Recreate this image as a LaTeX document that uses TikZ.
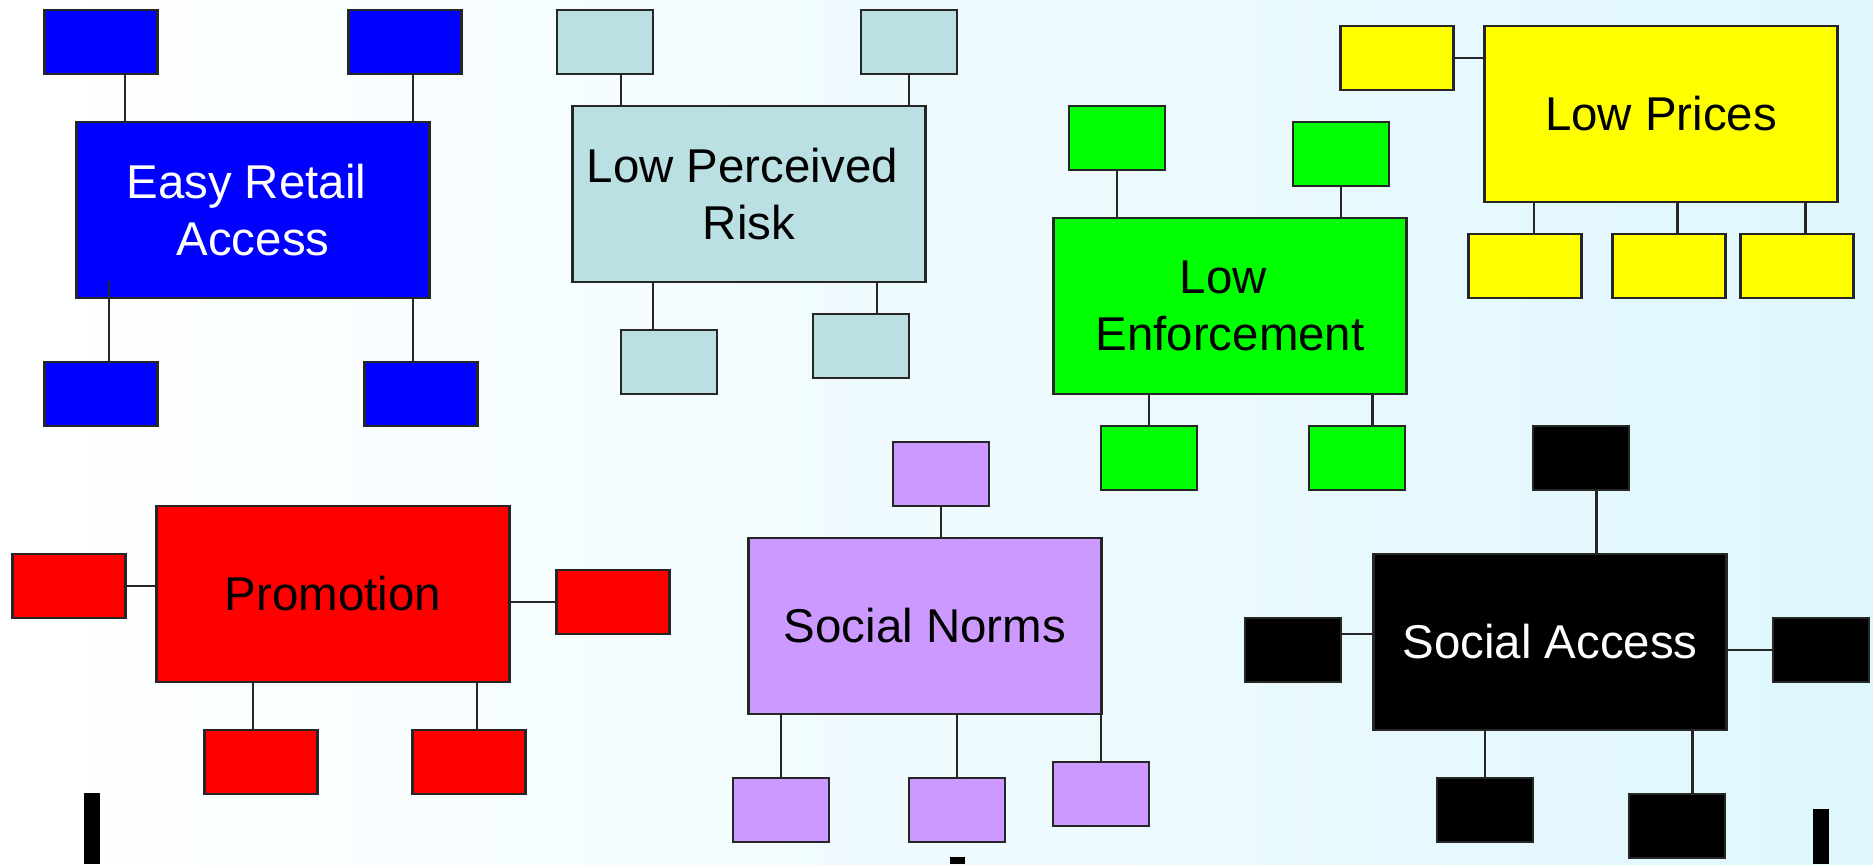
\documentclass[tikz,border=0pt]{standalone}
\usepackage{fontspec}
\setmainfont{Liberation Sans}
\definecolor{retailblue}{HTML}{0000FF}
\definecolor{riskblue}{HTML}{BBE0E3}
\definecolor{enfgreen}{HTML}{00FF00}
\definecolor{priceyellow}{HTML}{FFFF00}
\definecolor{promored}{HTML}{FF0000}
\definecolor{normpurple}{HTML}{CC99FF}
\definecolor{bgcyan}{HTML}{DFF7FE}
\begin{document}
\begin{tikzpicture}[x=0.1mm,y=-0.1mm,
  main/.style={draw=black!85,line width=0.7pt,fill=#1,minimum width=35.3mm,minimum height=17.6mm,inner sep=0pt,align=center,font=\fontsize{13.5}{16.3}\selectfont},
  leaf/.style={draw=black!85,line width=0.7pt,fill=#1,minimum width=9.6mm,minimum height=6.4mm,inner sep=0pt},
  wideleaf/.style={leaf=#1,minimum width=11.3mm},
  link/.style={draw=black!85,line width=0.6pt}]
\useasboundingbox (0,0) rectangle (1873,864);
\shade[left color=white,right color=bgcyan] (0,0) rectangle (1873,864);
\node[main=retailblue,text=white] (era) at (253,210) {Easy Retail\hspace*{0.28em}\\Access};
\node[wideleaf=retailblue] (era1) at (101,42) {};
\node[wideleaf=retailblue] (era2) at (405,42) {};
\node[wideleaf=retailblue] (era3) at (101,394) {};
\node[wideleaf=retailblue] (era4) at (421,394) {};
\node[main=riskblue] (lpr) at (749,194) {Low Perceived\hspace*{0.28em}\\Risk};
\node[leaf=riskblue] (lpr1) at (605,42) {};
\node[leaf=riskblue] (lpr2) at (909,42) {};
\node[leaf=riskblue] (lpr3) at (669,362) {};
\node[leaf=riskblue] (lpr4) at (861,346) {};
\node[main=enfgreen] (le) at (1230,306) {Low\hspace*{0.28em}\\Enforcement};
\node[leaf=enfgreen] (le1) at (1117,138) {};
\node[leaf=enfgreen] (le2) at (1341,154) {};
\node[leaf=enfgreen] (le3) at (1149,458) {};
\node[leaf=enfgreen] (le4) at (1357,458) {};
\node[main=priceyellow] (lp) at (1661,114) {Low Prices};
\node[wideleaf=priceyellow] (lp1) at (1397,58) {};
\node[wideleaf=priceyellow] (lp2) at (1525,266) {};
\node[wideleaf=priceyellow] (lp3) at (1669,266) {};
\node[wideleaf=priceyellow] (lp4) at (1797,266) {};
\node[main=promored] (pro) at (333,594) {Promotion};
\node[wideleaf=promored] (pro1) at (69,586) {};
\node[wideleaf=promored] (pro2) at (613,602) {};
\node[wideleaf=promored] (pro3) at (261,762) {};
\node[wideleaf=promored] (pro4) at (469,762) {};
\node[main=normpurple] (sn) at (925,626) {Social Norms};
\node[leaf=normpurple] (sn1) at (941,474) {};
\node[leaf=normpurple] (sn2) at (781,810) {};
\node[leaf=normpurple] (sn3) at (957,810) {};
\node[leaf=normpurple] (sn4) at (1101,794) {};
\node[main=black,text=white] (sa) at (1550,642) {Social Access};
\node[leaf=black] (sa1) at (1581,458) {};
\node[leaf=black] (sa2) at (1293,650) {};
\node[leaf=black] (sa3) at (1821,650) {};
\node[leaf=black] (sa4) at (1485,810) {};
\node[leaf=black] (sa5) at (1677,826) {};
\fill (84,793) rectangle (100,864);
\fill (950,857) rectangle (965,864);
\fill (1813,809) rectangle (1829,864);
\draw[link] ([xshift=2.4mm]era1.south) -- ([xshift=2.4mm]era1.south |- era.north);
\draw[link] ([xshift=0.8mm]era2.south) -- ([xshift=0.8mm]era2.south |- era.north);
\draw[link] ([xshift=0.8mm]era3.north) -- ++(0,-80);
\draw[link] ([xshift=-0.8mm]era4.north) -- ([xshift=-0.8mm]era4.north |- era.south);
\draw[link] ([xshift=1.6mm]lpr1.south) -- ([xshift=1.6mm]lpr1.south |- lpr.north);
\draw[link] (lpr2.south) -- (lpr2.south |- lpr.north);
\draw[link] ([xshift=-1.6mm]lpr3.north) -- ([xshift=-1.6mm]lpr3.north |- lpr.south);
\draw[link] ([xshift=1.6mm]lpr4.north) -- ([xshift=1.6mm]lpr4.north |- lpr.south);
\draw[link] (le1.south) -- (le1.south |- le.north);
\draw[link] (le2.south) -- (le2.south |- le.north);
\draw[link] (le3.north) -- (le3.north |- le.south);
\draw[link] ([xshift=1.55mm]le4.north) -- ([xshift=1.55mm]le4.north |- le.south);
\draw[link] (lp1.east) -- (lp1.east -| lp.west);
\draw[link] ([xshift=0.9mm]lp2.north) -- ([xshift=0.9mm]lp2.north |- lp.south);
\draw[link] ([xshift=0.85mm]lp3.north) -- ([xshift=0.85mm]lp3.north |- lp.south);
\draw[link] ([xshift=0.85mm]lp4.north) -- ([xshift=0.85mm]lp4.north |- lp.south);
\draw[link] (pro1.east) -- (pro1.east -| pro.west);
\draw[link] (pro2.west) -- (pro2.west -| pro.east);
\draw[link] ([xshift=-0.8mm]pro3.north) -- ([xshift=-0.8mm]pro3.north |- pro.south);
\draw[link] ([xshift=0.8mm]pro4.north) -- ([xshift=0.8mm]pro4.north |- pro.south);
\draw[link] (sn1.south) -- (sn1.south |- sn.north);
\draw[link] (sn2.north) -- (sn2.north |- sn.south);
\draw[link] (sn3.north) -- (sn3.north |- sn.south);
\draw[link] (sn4.north) -- (sn4.north |- sn.south);
\draw[link] ([xshift=1.55mm]sa1.south) -- ([xshift=1.55mm]sa1.south |- sa.north);
\draw[link] ([yshift=1.6mm]sa2.east) -- ([yshift=1.6mm]sa2.east -| sa.west);
\draw[link] (sa3.west) -- (sa3.west -| sa.east);
\draw[link] (sa4.north) -- (sa4.north |- sa.south);
\draw[link] ([xshift=1.55mm]sa5.north) -- ([xshift=1.55mm]sa5.north |- sa.south);
\end{tikzpicture}
\end{document}
